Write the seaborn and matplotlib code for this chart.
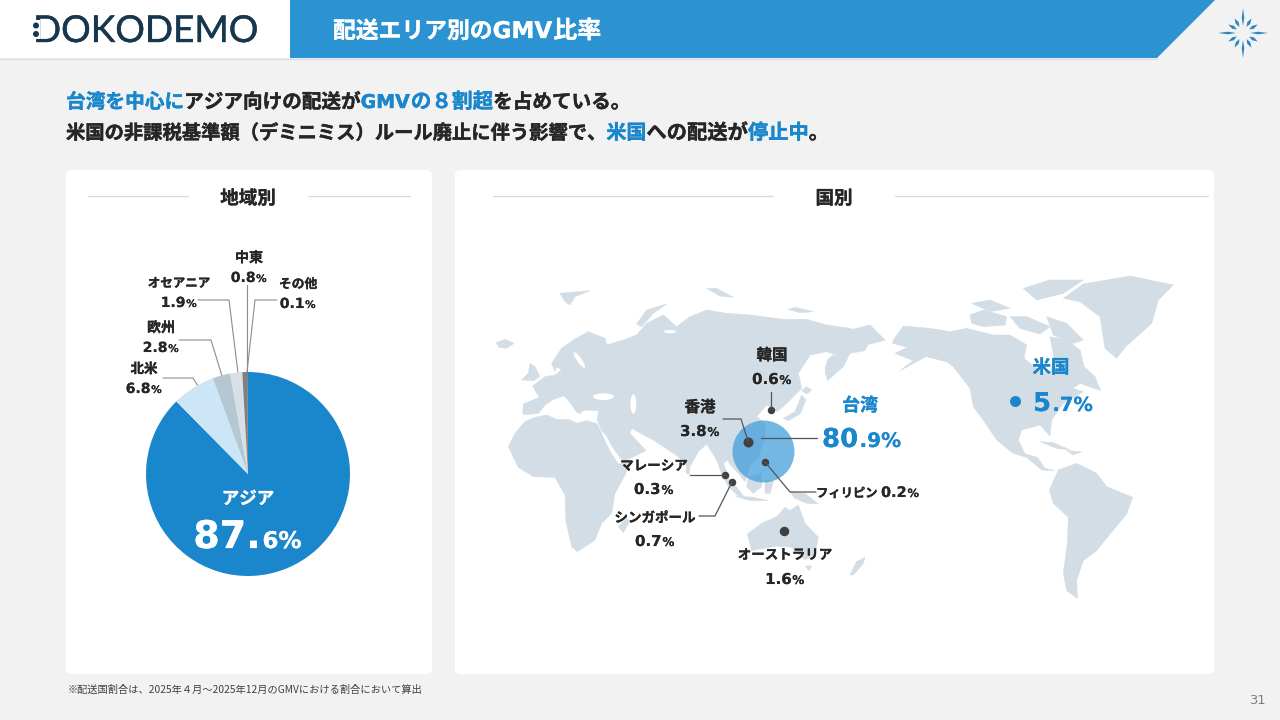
import numpy as np, pandas as pd
import matplotlib
matplotlib.use("Agg")
import matplotlib.pyplot as plt
import matplotlib.patheffects as pe
from matplotlib.patches import Polygon, FancyBboxPatch, Rectangle, Ellipse
import seaborn as sns

regions = ["アジア", "北米", "欧州", "オセアニア", "中東", "その他"]
region_share = [87.6, 6.8, 2.8, 1.9, 0.8, 0.1]
region_colors = ["#1A86CC", "#CDE6F7", "#B4C7D3", "#D6E0E6", "#808080", "#5A5A5A"]
countries = ["台湾", "香港", "韓国", "フィリピン", "マレーシア", "シンガポール", "オーストラリア", "米国"]
country_share = [80.9, 3.8, 0.6, 0.2, 0.3, 0.7, 1.6, 5.7]

sns.set_theme(style="white")
JP = ["Noto Sans CJK JP", "DejaVu Sans"]
DV = "DejaVu Sans"
plt.rcParams["font.family"] = JP
BG, DARK, BLUE, HEAD, LAND = "#F2F2F2", "#262626", "#1A86CC", "#2B93D1", "#D3DDE5"

fig = plt.figure(figsize=(12.8, 7.2), dpi=100, facecolor=BG)
ax = fig.add_axes([0, 0, 1, 1], zorder=0)
ax.set_xlim(0, 1280); ax.set_ylim(720, 0); ax.axis("off")
top = fig.add_axes([0, 0, 1, 1], zorder=2)
top.set_xlim(0, 1280); top.set_ylim(720, 0); top.axis("off"); top.patch.set_alpha(0)
px = lambda p: p * 0.72
def heavy(t, color, w=.2):
    t.set_path_effects([pe.withStroke(linewidth=w, foreground=color)])
    return t

def T(x, y, s, size, color=DARK, ha="center", va="baseline", a=None, w=.2):
    t = (a or ax).text(x, y, s, fontsize=px(size), color=color, fontweight="bold", ha=ha, va=va, zorder=10)
    return heavy(t, color, w)

def rich(x, y, parts, align="left", a=None, w=.15):
    """parts: (text, size_px, color[, family])"""
    a = a or ax
    r = fig.canvas.get_renderer()
    arts, widths = [], []
    for part in parts:
        fam = part[3] if len(part) > 3 else JP
        t = a.text(0, y, part[0], fontsize=px(part[1]), color=part[2], fontweight="bold",
                   family=fam, va="baseline", ha="left", zorder=10)
        heavy(t, part[2], w)
        arts.append(t)
        widths.append(part[1] * len(part[0]) if fam is JP else t.get_window_extent(r).width + part[1] * .05)
    total = sum(widths)
    x0 = x - total / 2 if align == "center" else x
    for t, wd in zip(arts, widths):
        t.set_x(x0); x0 += wd

# header
ax.add_patch(Rectangle((0, 0), 290, 58, fc="white", ec="none"))
ax.plot([0, 1157], [58.5, 58.5], color="#D5DDE5", lw=1)
ax.add_patch(Polygon([(290, 0), (1215, 0), (1157, 58), (290, 58)], fc=HEAD, ec="none"))
rich(333, 38, [("配送エリア別の", 22.8, "white"), ("GMV", 23, "white", DV), ("比率", 24, "white")], w=.2)

# logo
t = ax.text(33, 42, "DOKODEMO", color="#17374F", fontsize=px(37), family="Lato", va="baseline", ha="left")
heavy(t, "#17374F", .3)
ax.add_patch(Rectangle((30, 20), 9.5, 19, fc="white", ec="none", zorder=5))
for yy in (25.5, 34):
    ax.add_patch(Ellipse((36, yy), 6, 6, fc="#17374F", ec="none", zorder=6))

# star icon
cx, cy = 1243, 33
for i in range(12):
    a_ = np.deg2rad(i * 30)
    L = 25 if i % 3 == 0 else 17
    wd = 1.3 if i % 3 == 0 else 1.7
    u = np.array([np.cos(a_), np.sin(a_)]); n = np.array([-u[1], u[0]])
    c = np.array([cx, cy]); s = c + u * 7; m = c + u * (7 + (L - 7) * .45)
    ax.add_patch(Polygon([s, m + n * wd, c + u * L, m - n * wd], fc="#2E86C1", ec="none"))

# headline
k, b = DARK, BLUE
rich(66, 108, [("台湾を中心に", 19.7, b), ("アジア向けの配送が", 19.6, k), ("GMV", 19, b, DV), ("の８割超", 20.6, b), ("を占めている。", 19.6, k)], w=.3)
rich(66, 139, [("米国の非課税基準額（デミニミス）ルール廃止に伴う影響で、", 19.3, k), ("米国", 20, b),
               ("への配送が", 20.3, k), ("停止中", 20.3, b), ("。", 20, k)], w=.3)

# cards
for x0, x1 in [(66, 432), (455, 1214)]:
    ax.add_patch(FancyBboxPatch((x0 + 5, 175), x1 - x0 - 10, 494, boxstyle="round,pad=0,rounding_size=0.1",
                                fc="white", ec="white", lw=10 * .72, joinstyle="round"))
for a0, a1 in [(88, 188), (308, 410), (493, 773), (895, 1208)]:
    ax.plot([a0, a1], [195.5, 195.5], color="#D5DADF", lw=.9)
T(248, 204, "地域別", 18.5)
T(834, 204, "国別", 18.5)

# map: background shapes, outlined from 3x crops of the reference
def Z4(pts): return [(490 + x / 3, 260 + y / 3) for x, y in pts]
def Z5(pts): return [(850 + x / 3, 260 + y / 3) for x, y in pts]
land4 = [
 # Africa
 [(55,560),(75,520),(105,485),(135,472),(170,465),(200,478),(235,478),(262,490),(290,482),(320,490),(335,520),(360,575),(385,612),(420,608),(405,645),(375,700),(365,760),(335,790),(315,840),(262,875),(245,860),(228,785),(225,705),(195,652),(130,650),(85,622)],
 # Eurasia
 [(98,462),(100,432),(148,412),(128,378),(165,350),(195,345),(215,330),(200,320),(195,335),(185,310),(215,265),(250,240),(295,215),(345,235),(350,255),(400,240),(440,225),(470,190),(520,165),(560,200),(600,170),(650,150),(710,160),(780,165),(880,178),(950,178),(1010,195),(1080,205),(1140,225),(1185,240),(1135,250),(1125,272),(1080,280),(1060,320),(1012,362),(1005,320),(1040,285),(1010,275),(960,285),(925,340),(935,385),(890,430),(862,455),(830,435),(800,470),(825,490),(825,530),(805,590),(780,615),(765,665),(745,640),(722,615),(712,600),(700,610),(728,680),(700,655),(680,600),(650,552),(625,575),(597,625),(565,590),(520,560),(490,540),(470,530),(425,505),(420,520),(468,572),(400,605),(375,572),(335,512),(322,482),(325,452),(282,450),(268,462),(250,428),(222,408),(190,418),(165,435),(145,460),(105,464)],
 # Italy
 [(225,408),(242,415),(278,452),(262,458)],
 # Islands
 [(95,360),(115,340),(120,310),(135,320),(150,350),(130,362)], [(18,248),(45,238),(72,250),(50,265),(28,262)],
 [(210,100),(300,92),(255,110),(240,135),(225,125)], [(440,192),(470,150),(530,132),(490,160),(455,200)],
 [(650,85),(680,85),(730,112),(690,108)], [(895,148),(915,142),(970,155),(930,158)],
 [(880,475),(915,455),(935,405),(948,420),(930,462),(895,482)], [(935,392),(950,380),(965,390),(950,402)],
 [(1005,345),(1012,300),(1035,280),(1030,320)],
 [(700,650),(735,675),(765,715),(750,712),(715,680)], [(735,708),(790,712),(835,722),(780,722)],
 [(775,650),(815,640),(815,680),(790,700),(770,680)], [(825,660),(850,665),(840,700),(825,700)],
 [(900,695),(945,700),(985,732),(950,730),(915,715)],
 [(385,800),(410,775),(418,785),(400,818)], [(590,620),(600,625),(598,645),(588,638)],
 # Australia
 [(772,822),(815,790),(860,770),(885,742),(900,752),(925,735),(945,790),(985,832),(975,882),(945,900),(905,862),(860,858),(785,872)],
 [(945,918),(965,918),(958,932)],
]
land5 = [
 # North America
 [(130,240),(160,198),(240,205),(300,215),(350,205),(430,225),(480,225),(530,255),(522,295),(560,325),(600,345),(612,295),(600,230),(650,240),(690,270),(702,320),(735,350),(752,392),(690,370),(668,385),(700,395),(640,430),(605,480),(600,528),(570,495),(515,510),(505,540),(525,582),(562,592),(585,625),(615,632),(575,630),(530,592),(490,580),(440,540),(400,480),(370,440),(360,385),(310,320),(290,305),(228,290),(150,332),(190,302),(135,280),(172,262),(128,250)],
 # Arctic Canada
 [(360,165),(400,150),(470,170),(465,195),(400,200),(365,190)], [(365,130),(420,120),(480,145),(420,155)],
 [(520,85),(600,60),(700,60),(640,100),(560,120)], [(480,170),(530,170),(600,200),(570,222),(510,205)],
 [(590,170),(650,190),(700,240),(670,250),(610,225)],
 # Greenland
 [(640,115),(700,72),(840,48),(970,75),(925,120),(905,190),(825,262),(800,295),(765,265),(750,170),(690,125)],
 # South America
 [(598,690),(625,630),(680,610),(740,640),(770,680),(848,712),(830,762),(780,822),(740,872),(700,902),(680,960),(682,1015),(650,992),(640,940),(652,850),(655,772),(610,730)],
 # Caribbean, New Zealand, Chukotka end
 [(570,545),(610,548),(660,570),(620,565)], [(650,572),(695,575),(670,585)],
 [(0,945),(20,905),(45,892),(40,910),(10,945)], [(0,210),(60,195),(105,240),(50,255),(0,280)],
]
for poly in [Z4(p) for p in land4] + [Z5(p) for p in land5]:
    ax.add_patch(Polygon(poly, fc=LAND, ec=LAND, lw=.4, zorder=2))
seas = [((340,410),(62,20),0), ((430,432),(18,58),0), ((268,300),(14,56),-35), ((540,215),(36,10),0)]
for (c, wh, ang) in seas:
    ax.add_patch(Ellipse(Z4([c])[0], wh[0] / 3, wh[1] / 3, angle=ang, fc="white", ec="none", zorder=3))
ax.add_patch(Polygon(Z4([(335,512),(350,530),(392,612),(380,600),(345,540)]), fc="white", ec="none", zorder=3))

# pie
pie_ax = fig.add_axes([146 / 1280, 1 - 576 / 720, 204 / 1280, 204 / 720], zorder=1)
pie_ax.pie(region_share, colors=sns.color_palette(region_colors), startangle=90, counterclock=False,
           radius=1, wedgeprops=dict(lw=0))
pie_ax.set_xlim(-1, 1); pie_ax.set_ylim(-1, 1)

T(248, 504, regions[0], 17.5, "white", a=top)
rich(248, 548, [("87.", 38, "white", DV), ("6%", 23, "white", DV)], "center", a=top)
G = "#8C8C8C"
for l in [[(163,378),(193,378),(198,386)], [(179,340),(211,340),(222,376)], [(198,300),(229,300),(238,373)],
          [(246.5,285),(246.5,372)], [(277,300),(255,300),(247,372)]]:
    ax.plot(*zip(*l), color=G, lw=.8, zorder=4)
def lab(x, y, name, val, gap=20, ns=13.5, vs=14, ps=10.5, color=DARK):
    T(x, y, name, ns, color)
    rich(x, y + gap, [(val, vs, color, DV), ("%", ps, color, DV)], "center", w=.05)
lab(144, 373, regions[1], f"{region_share[1]}")
lab(161, 332, regions[2], f"{region_share[2]}", ns=14)
lab(179, 287, regions[3], f"{region_share[3]}", ns=12.5)
lab(249, 262, regions[4], f"{region_share[4]}", ns=14)
lab(298, 288, regions[5], f"{region_share[5]}", ns=12.8)

# country markers
df = pd.DataFrame({"country": countries, "share": country_share,
                   "x": [763, 748, 771, 765, 725, 732, 784, 1015],
                   "y": [451, 442, 410, 462, 475, 482, 531, 401],
                   "dia": [62, 10, 7.5, 7.5, 7.5, 7.5, 9.5, 11],
                   "col": ["#3D9BDA", "#404040", "#404040", "#404040", "#404040", "#404040", "#404040", BLUE],
                   "alpha": [.72, 1, 1, 1, 1, 1, 1, 1]})
for _, g in df.groupby(["dia", "col"], sort=False):
    sns.scatterplot(data=g, x="x", y="y", s=(px(g["dia"].iloc[0])) ** 2, color=g["col"].iloc[0],
                    alpha=g["alpha"].iloc[0], ax=ax, linewidth=0, legend=False, zorder=5)
ax.set_xlim(0, 1280); ax.set_ylim(720, 0); ax.axis("off")

L2 = "#555555"
for l in [[(771,392),(771,408)], [(723,419),(741,419),(748,441)], [(761,438),(817,438)], [(765,462),(790,492),(816,492)],
          [(690,475),(725,475)], [(699,516),(715,516),(732,482)]]:
    ax.plot(*zip(*l), color=L2, lw=.9, zorder=6)

NV = dict(gap=24, vs=15, ps=12)
lab(772, 360, countries[2], f"{country_share[2]}", ns=15.5, **NV)
lab(700, 412, countries[1], f"{country_share[1]}", ns=15.5, **NV)
lab(654, 470, countries[4], f"{country_share[4]}", **NV)
lab(655, 522, countries[5], f"{country_share[5]}", **NV)
lab(785, 559, countries[6], f"{country_share[6]}", gap=25, vs=15, ps=12)
T(816, 497, countries[3], 12.3, ha="left")
rich(881, 497, [(f"{country_share[3]}", 14.5, DARK, DV), ("%", 11.5, DARK, DV)], w=.05)
T(860, 411, countries[0], 18, BLUE)
rich(822, 447, [("80", 26, BLUE, DV), (".9%", 20, BLUE, DV)], w=.05)
T(1051, 373, countries[7], 18.5, BLUE)
rich(1033, 411, [("5", 26, BLUE, DV), (".7%", 19.5, BLUE, DV)], w=.05)

# footer
ax.text(68, 690, "※配送国割合は、2025年４月～2025年12月のGMVにおける割合において算出", fontsize=px(10.2), color="#404040", va="center")
ax.text(1266, 701, "31", fontsize=px(13), color="#7F7F7F", ha="right", va="center", family=DV)

fig.savefig("out.png", dpi=100, facecolor=BG)
